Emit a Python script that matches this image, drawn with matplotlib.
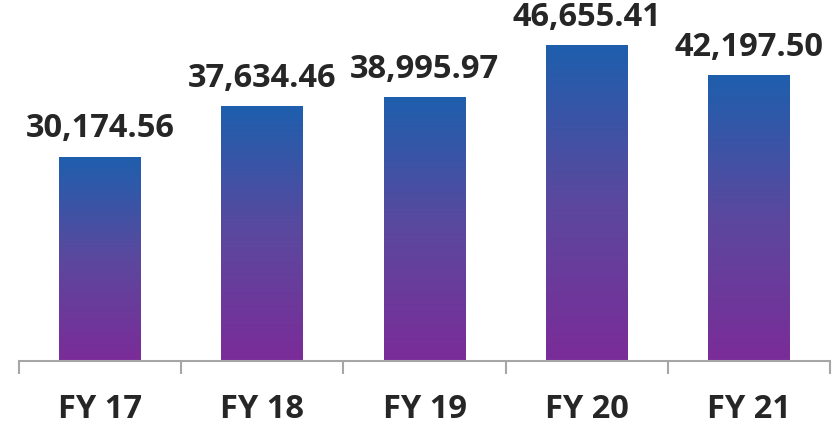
import numpy as np
import matplotlib
matplotlib.use("Agg")
from matplotlib import pyplot as plt
from matplotlib.colors import LinearSegmentedColormap

categories = ["FY 17", "FY 18", "FY 19", "FY 20", "FY 21"]
values = [30174.56, 37634.46, 38995.97, 46655.41, 42197.50]
labels = ["30,174.56", "37,634.46", "38,995.97", "46,655.41", "42,197.50"]

plt.rcParams['font.family'] = ['Open Sans', 'DejaVu Sans']

fig = plt.figure(figsize=(8.36, 4.27), dpi=100)
ax = fig.add_axes([19/836, 65/427, (830-19)/836, 362/427])

cmap = LinearSegmentedColormap.from_list("grad", ["#7b2c98", "#5b489e", "#1e5fad"])
grad = np.linspace(0, 1, 256).reshape(-1, 1)

x = np.arange(len(categories))
bars = ax.bar(x, values, width=0.505, color="none", edgecolor="none")
for b in bars:
    x0, w, h = b.get_x(), b.get_width(), b.get_height()
    im = ax.imshow(grad, cmap=cmap, origin="lower", aspect="auto",
                   extent=[x0, x0 + w, 0, h], zorder=2)
    im.set_clip_path(b)

for xi, v, lab in zip(x, values, labels):
    ax.annotate(lab, (xi, v), xytext=(0, 14.5), textcoords="offset points",
                ha="center", va="baseline", fontsize=23.5, fontweight="bold",
                color="#262626")

ax.set_xlim(-0.5, 4.5)
ax.set_ylim(0, 53450)
ax.set_xticks(x)
ax.set_xticklabels(categories, fontsize=23.5, fontweight="bold", color="#262626")
ax.set_xticks(np.arange(-0.5, 5, 1), minor=True)
ax.tick_params(axis="x", which="major", length=0, pad=22)
ax.tick_params(axis="x", which="minor", length=9, width=1.5, color="#a6a6a6")
ax.set_yticks([])
for s in ["top", "right", "left"]:
    ax.spines[s].set_visible(False)
ax.spines["bottom"].set_color("#a6a6a6")
ax.spines["bottom"].set_linewidth(1.5)

fig.savefig("out.png", dpi=100)
